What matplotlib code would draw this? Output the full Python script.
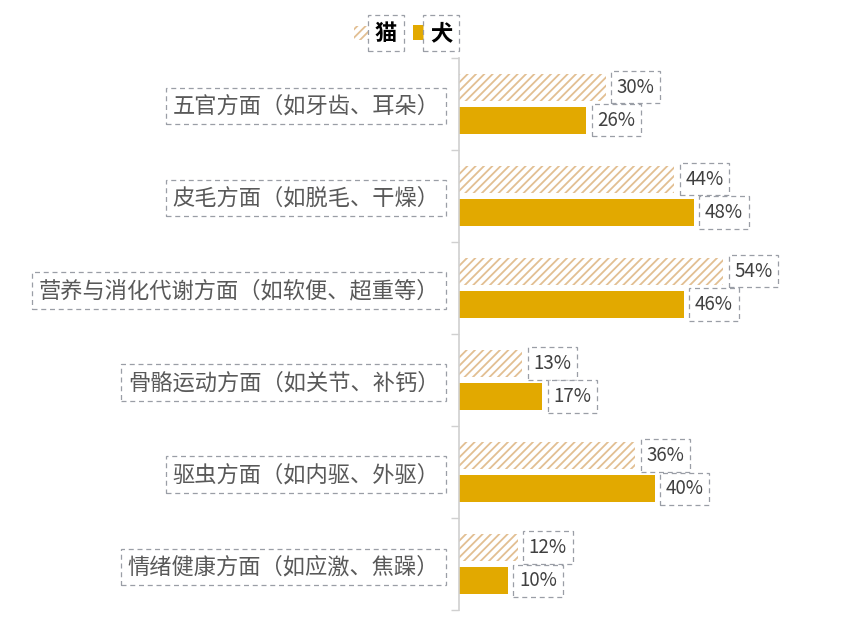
import matplotlib.pyplot as plt
import numpy as np
from matplotlib.patches import Rectangle

plt.rcParams['font.family'] = ['Noto Sans CJK SC', 'DejaVu Sans']
plt.rcParams['hatch.linewidth'] = 1.3

categories = ['五官方面（如牙齿、耳朵）', '皮毛方面（如脱毛、干燥）', '营养与消化代谢方面（如软便、超重等）',
              '骨骼运动方面（如关节、补钙）', '驱虫方面（如内驱、外驱）', '情绪健康方面（如应激、焦躁）']
cat_values = [30, 44, 54, 13, 36, 12]
dog_values = [26, 48, 46, 17, 40, 10]
series_names = ['猫', '犬']

cat_color = '#e2bf92'
dog_color = '#e2a900'
box_style = dict(boxstyle='square,pad=0.3', facecolor='white', edgecolor='#9a9ea6',
                 linestyle=(0, (4, 3)), linewidth=0.9)

fig = plt.figure(figsize=(8.45, 6.41), dpi=100)
ax = fig.add_axes([0.543, 0.048, 0.44, 0.862])

y = np.arange(len(categories))
h = 0.29
gap = 0.035
ax.barh(y - h / 2 - gap, cat_values, height=h, facecolor='white', edgecolor=cat_color,
        hatch='////', linewidth=0)
ax.barh(y + h / 2 + gap, dog_values, height=h, color=dog_color)

for yi, v in zip(y, cat_values):
    ax.text(v + 2.3, yi - h / 2 - gap, f'{v}%', va='center', ha='left', fontsize=13.5,
            color='#404040', bbox=box_style)
for yi, v in zip(y, dog_values):
    ax.text(v + 2.3, yi + h / 2 + gap, f'{v}%', va='center', ha='left', fontsize=13.5,
            color='#404040', bbox=box_style)

ax.set_ylim(len(categories) - 0.5, -0.5)
ax.set_xlim(0, 76)
ax.set_yticks(y)
ax.set_yticklabels(categories, fontsize=16, color='#595959')
for lbl in ax.get_yticklabels():
    lbl.set_bbox(box_style)
ax.tick_params(axis='y', length=0, pad=14)
ax.set_yticks(np.arange(len(categories) + 1) - 0.5, minor=True)
ax.tick_params(axis='y', which='minor', length=6, color='#d0d0d0', width=1)
ax.set_xticks([])
for s in ['top', 'right', 'bottom']:
    ax.spines[s].set_visible(False)
ax.spines['left'].set_color('#d0d0d0')
ax.spines['left'].set_linewidth(1.2)

# legend drawn by hand at the top
fig.patches.append(Rectangle((0.419, 0.937), 0.016, 0.022, transform=fig.transFigure,
                             facecolor='white', edgecolor=cat_color, hatch='////', linewidth=0))
fig.text(0.457, 0.948, series_names[0], fontsize=16, fontweight='bold', va='center', ha='center',
         color='black', bbox=box_style)
fig.patches.append(Rectangle((0.489, 0.937), 0.018, 0.024, transform=fig.transFigure,
                             facecolor=dog_color, linewidth=0))
fig.text(0.522, 0.948, series_names[1], fontsize=16, fontweight='bold', va='center', ha='center',
         color='black', bbox=box_style)

fig.savefig('out.png', dpi=100)
